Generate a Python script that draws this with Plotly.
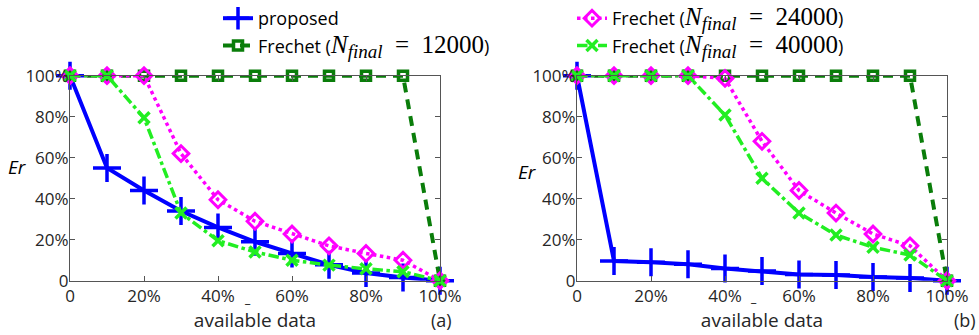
import plotly.graph_objects as go

x_pct = [0, 10, 20, 30, 40, 50, 60, 70, 80, 90, 100]
x_ticks = [0, 20, 40, 60, 80, 100]
x_tick_labels = ["0", "20%", "40%", "60%", "80%", "100%"]
y_ticks = [0, 20, 40, 60, 80, 100]
y_tick_labels = ["0", "20%", "40%", "60%", "80%", "100%"]

# panel (a)
a_proposed = [100, 55, 44, 34, 26, 19, 13.3, 7.8, 3.8, 1.6, 0]
a_fr12000 = [100, 100, 100, 100, 100, 100, 100, 100, 100, 100, 0]
a_fr24000 = [100, 100, 100, 62, 39.5, 29, 22.8, 17, 13.3, 10, 0]
a_fr40000 = [100, 100, 79.5, 33, 19.5, 14, 10, 7.6, 5.8, 4.4, 0]

# panel (b)
b_proposed = [100, 9.6, 9, 8, 6, 4.7, 3, 2.8, 1.8, 1.3, 0]
b_fr12000 = [100, 100, 100, 100, 100, 100, 100, 100, 100, 100, 0]
b_fr24000 = [100, 100, 100, 100, 98.7, 68, 44, 33, 22.8, 17, 0]
b_fr40000 = [100, 100, 100, 100, 80.8, 50, 33, 22.3, 16.3, 12.5, 0]

N_values = ["12000", "24000", "40000"]


def frechet_name(n):
    return ("Frechet (<span style=\"font-family:'Liberation Serif';font-size:25px\"><i>N</i>"
            "<sub><i><span style=\"font-size:19px\">final</span></i></sub>"
            "&nbsp;&nbsp;=&nbsp;&nbsp;" + n + "</span>)")


names = ["proposed"] + [frechet_name(n) for n in N_values]

styles = [
    dict(line=dict(color="#0000FF", width=4, dash="solid"),
         marker=dict(symbol="cross-thin-open", size=20, line=dict(color="#0000FF", width=3.5))),
    dict(line=dict(color="#0A7D0A", width=4, dash="10px,7px"),
         marker=dict(symbol="square-open", size=9, color="#0A7D0A", line=dict(color="#0A7D0A", width=3.5))),
    dict(line=dict(color="#FF00FF", width=3.5, dash="dot"),
         marker=dict(symbol="diamond-open", size=12, color="#FF00FF", line=dict(color="#FF00FF", width=3))),
    dict(line=dict(color="#22EE22", width=3.5, dash="dashdot"),
         marker=dict(symbol="x-thin-open", size=11, line=dict(color="#22EE22", width=3.5))),
]
legends = ["legend", "legend", "legend2", "legend2"]

fig = go.Figure()
panels = [
    ("x", "y", [a_proposed, a_fr12000, a_fr24000, a_fr40000]),
    ("x2", "y2", [b_proposed, b_fr12000, b_fr24000, b_fr40000]),
]
for pi, (xa, ya, series) in enumerate(panels):
    for i, ys in enumerate(series):
        fig.add_trace(go.Scatter(
            x=x_pct, y=ys, mode="lines+markers", name=names[i],
            xaxis=xa, yaxis=ya, cliponaxis=False,
            showlegend=(pi == 0), legend=legends[i], legendgroup="g%d" % i,
            **styles[i]))

axis_common = dict(
    range=[0, 100], showline=True, linecolor="#555555", linewidth=1, mirror="ticks",
    ticks="inside", ticklen=5, tickcolor="#555555", showgrid=False, zeroline=False,
    tickfont=dict(family="Open Sans", size=17, color="#262626"),
)
title_font = dict(family="Open Sans", size=19, color="#262626")
W, H = 979, 335


def xd(a, b):
    return [a / W, b / W]


y_dom = [(H - 280.7) / H, (H - 75.7) / H]


def ann(text, x, y, size, color="#262626", **kw):
    return dict(text=text, x=x / W, y=(H - y) / H, xref="paper", yref="paper",
                xanchor="center", yanchor="middle", showarrow=False,
                font=dict(family="Open Sans", size=size, color=color), **kw)


fig.update_layout(
    width=W, height=H, margin=dict(l=0, r=0, t=0, b=0, autoexpand=False),
    paper_bgcolor="white", plot_bgcolor="white",
    font=dict(family="Open Sans", color="black"),
    xaxis=dict(domain=xd(70, 440), anchor="y", tickvals=x_ticks, ticktext=x_tick_labels,
               title=dict(text="available data", font=title_font, standoff=5),
               **axis_common),
    yaxis=dict(domain=y_dom, anchor="x", tickvals=y_ticks, ticktext=y_tick_labels,
               ticklabelstandoff=-3, **axis_common),
    xaxis2=dict(domain=xd(577, 947), anchor="y2", tickvals=x_ticks, ticktext=x_tick_labels,
                title=dict(text="available data", font=title_font, standoff=5),
                **axis_common),
    yaxis2=dict(domain=y_dom, anchor="x2", tickvals=y_ticks, ticktext=y_tick_labels,
                ticklabelstandoff=-3, **axis_common),
    legend=dict(x=218 / W, y=1.0, xanchor="left", yanchor="top", orientation="v",
                tracegroupgap=1, bgcolor="rgba(0,0,0,0)",
                font=dict(family="Open Sans", size=18, color="black")),
    legend2=dict(x=572 / W, y=1.0, xanchor="left", yanchor="top", orientation="v",
                 tracegroupgap=1, bgcolor="rgba(0,0,0,0)",
                 font=dict(family="Open Sans", size=18, color="black")),
    annotations=[
        ann("<i>Er</i>", 17, 167, 19, color="black"),
        ann("<i>Er</i>", 527, 172, 19, color="black"),
        ann("(a)", 441, 320, 18),
        ann("(b)", 965, 320, 18),
        ann("_", 247, 298, 12, color="black"),
        ann("_", 753, 297, 12, color="black"),
    ],
)

fig.write_html("out.html", config={"displayModeBar": False},
               post_script="document.body.style.margin='0px';")
